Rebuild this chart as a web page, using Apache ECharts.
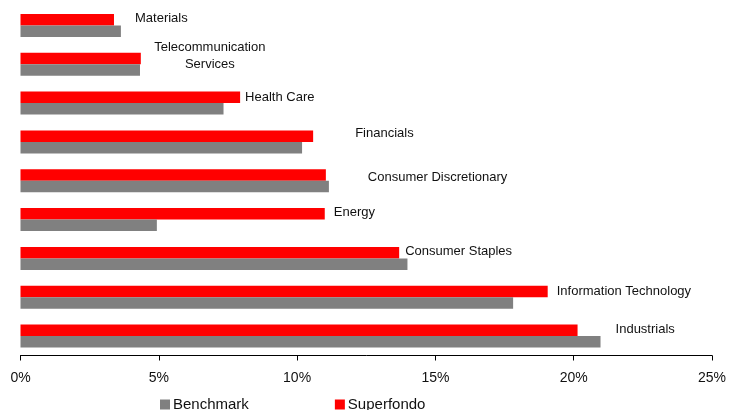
<!DOCTYPE html>
<html>
<head>
<meta charset="utf-8">
<script src="https://cdn.jsdelivr.net/npm/echarts@6/dist/echarts.min.js"></script>
<style>
  html, body { margin: 0; padding: 0; background: #fff; }
  #chart { width: 729px; height: 410px; }
</style>
</head>
<body>
<div id="chart"></div>
<script>
  // sectors, top to bottom
  var sectors = ['Materials', 'Telecommunication\nServices', 'Health Care', 'Financials',
    'Consumer Discretionary', 'Energy', 'Consumer Staples', 'Information Technology', 'Industrials'];
  var superfondo = [3.38, 4.35, 7.94, 10.58, 11.04, 11.0, 13.69, 19.06, 20.14];
  var benchmark = [3.63, 4.32, 7.34, 10.18, 11.15, 4.93, 13.99, 17.81, 20.97];
  var xTicks = [0, 5, 10, 15, 20, 25];

  // where the sector names sit, relative to the end of the red bar
  var nameShift = [[16, -1.5], [64, -2.5], [0, 0], [37, -2.5], [37, 2.7], [4, -1.5], [1, -1], [4, 0], [33, -1]];

  var font = '"Liberation Sans", Arial, sans-serif';
  var redData = superfondo.map(function (v, i) {
    var lab = { offset: nameShift[i] };
    if (sectors[i].indexOf('\n') >= 0) lab.align = 'center';
    return { value: v, label: lab };
  });

  var myChart = echarts.init(document.getElementById('chart'));
  myChart.setOption({
    animation: false,
    backgroundColor: '#fff',
    textStyle: { fontFamily: font },
    grid: { left: 20.5, right: 13.5, top: 6, bottom: 54.5 },
    legend: {
      data: ['Benchmark', 'Superfondo'],
      left: 160,
      top: 397,
      padding: 0,
      icon: 'rect',
      itemWidth: 10,
      itemHeight: 10,
      itemGap: 86,
      textStyle: { fontSize: 15, color: '#111', fontFamily: font, padding: [0, 0, 0, -2] }
    },
    xAxis: {
      type: 'value',
      min: xTicks[0],
      max: xTicks[xTicks.length - 1],
      interval: 5,
      axisLine: { show: true, lineStyle: { color: '#000', width: 1 } },
      axisTick: { show: true, length: 5, lineStyle: { color: '#000' } },
      axisLabel: { formatter: '{value}%', fontSize: 14, color: '#111', margin: 16, fontFamily: font },
      splitLine: { show: false }
    },
    yAxis: {
      type: 'category',
      data: sectors,
      inverse: true,
      axisLine: { show: false },
      axisTick: { show: false },
      axisLabel: { show: false }
    },
    series: [
      {
        name: 'Superfondo',
        type: 'bar',
        data: redData,
        barWidth: 11.5,
        barGap: 0,
        itemStyle: { color: '#ff0000' },
        label: {
          show: true,
          position: 'right',
          distance: 5,
          fontSize: 13,
          lineHeight: 17,
          color: '#111',
          fontFamily: font,
          formatter: function (p) { return p.name; }
        }
      },
      {
        name: 'Benchmark',
        type: 'bar',
        data: benchmark,
        barWidth: 11.5,
        barGap: 0,
        itemStyle: { color: '#808080' }
      }
    ]
  });
</script>
</body>
</html>
